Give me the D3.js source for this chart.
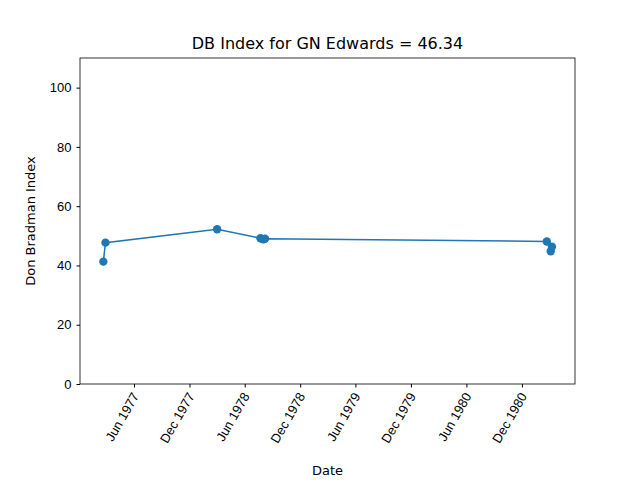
<!DOCTYPE html>
<html><head><meta charset="utf-8">
<script src="https://cdn.jsdelivr.net/npm/d3@7"></script>
<style>body{margin:0;background:#fff}svg{font-family:"DejaVu Sans",sans-serif}</style>
</head><body><svg id="c" width="640" height="480"></svg>
<script>
const dates = ['1977-02-20','1977-02-27','1978-03-02','1978-07-23','1978-08-01','1978-08-07','1981-02-21','1981-03-06','1981-03-10']
const values = [41.3, 47.7, 52.2, 49.2, 48.8, 49.0, 48.1, 44.8, 46.34]
const tickDates = ['1977-06-01','1977-12-01','1978-06-01','1978-12-01','1979-06-01','1979-12-01','1980-06-01','1980-12-01']
const yTicks = [0, 20, 40, 60, 80, 100]

const parse = d3.utcParse('%Y-%m-%d')
const data = dates.map((d, i) => ({ date: parse(d), value: values[i] }))
const margin = { top: 58, right: 65, bottom: 96, left: 80 }
const width = 640, height = 480
const svg = d3.select('#c')

const x = d3.scaleUtc()
  .domain([parse('1976-12-05'), parse('1981-05-25')])
  .range([margin.left, width - margin.right])
const y = d3.scaleLinear().domain([0, 110]).range([height - margin.bottom, margin.top])

const xAxis = svg.append('g')
  .attr('transform', `translate(0,${height - margin.bottom})`)
  .call(d3.axisBottom(x).tickValues(tickDates.map(parse)).tickFormat(d3.utcFormat('%b %Y')).tickSizeOuter(0).tickSize(3.5))
xAxis.selectAll('text')
  .attr('font-size', 13).attr('fill', '#000')
  .attr('text-anchor', 'end').attr('dx', 0).attr('dy', 0).attr('y', 0)
  .attr('transform', 'translate(5,12) rotate(-60)')
xAxis.select('.domain').remove()

const yAxis = svg.append('g')
  .attr('transform', `translate(${margin.left},0)`)
  .call(d3.axisLeft(y).tickValues(yTicks).tickSize(3.5).tickPadding(5))
yAxis.selectAll('text').attr('font-size', 13).attr('fill', '#000')
yAxis.select('.domain').remove()

svg.append('rect')
  .attr('x', margin.left).attr('y', margin.top)
  .attr('width', width - margin.left - margin.right)
  .attr('height', height - margin.top - margin.bottom)
  .attr('fill', 'none').attr('stroke', '#000').attr('stroke-width', 0.8)

const line = d3.line().x(d => x(d.date)).y(d => y(d.value))
svg.append('path').datum(data)
  .attr('fill', 'none').attr('stroke', '#1f77b4').attr('stroke-width', 1.5)
  .attr('d', line)
svg.selectAll('circle').data(data).join('circle')
  .attr('cx', d => x(d.date)).attr('cy', d => y(d.value))
  .attr('r', 4.2).attr('fill', '#1f77b4')

svg.append('text').attr('x', (margin.left + width - margin.right) / 2).attr('y', 49)
  .attr('text-anchor', 'middle').attr('font-size', 16).text('DB Index for GN Edwards = 46.34')
svg.append('text').attr('x', (margin.left + width - margin.right) / 2).attr('y', 475)
  .attr('text-anchor', 'middle').attr('font-size', 13).text('Date')
svg.append('text').attr('transform', `translate(35,${(margin.top + height - margin.bottom) / 2}) rotate(-90)`)
  .attr('text-anchor', 'middle').attr('font-size', 13).text('Don Bradman Index')
</script></body></html>
